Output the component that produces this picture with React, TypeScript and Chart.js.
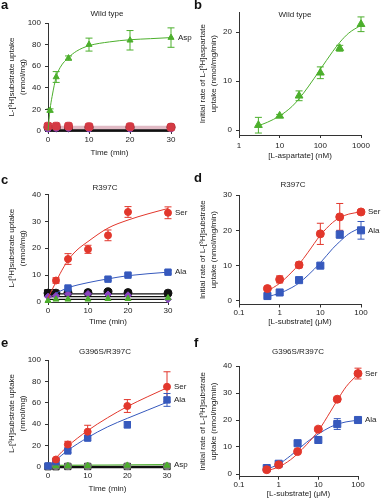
import React, { useEffect, useRef } from "react";
import { Chart, registerables } from "chart.js";
Chart.register(...registerables);

const FONT = "'Liberation Sans', Arial, sans-serif";
const GREEN = "#4caf2c";
const RED = "#e2372c";
const BLUE = "#3659bd";
const PURPLE = "#8a46c2";
const BLACK = "#111111";
const GRAY = "#7a7a7a";
const TEXT = "#222222";

// ---------- shared ticks ----------
const timeTicks = [0, 10, 20, 30];
const timeTickLabels = ["0", "10", "20", "30"];
const lineEnds = [0, 30];

// ---------- panel a (Wild type, time course) ----------
const aTime = [0.5, 2, 5, 10, 20, 30];
const aAsp = [19, 50, 67.5, 80, 84, 86.5];
const aAspErr = [1.5, 5, 2, 6, 9, 9];
const aFitTime = [0, 0.5, 1, 2, 3, 5, 7, 10, 15, 20, 25, 30];
const aAspFit = [0, 20, 32, 50, 59, 68, 74, 79, 82.5, 84.5, 85.5, 86.5];
const aCtrlTime = [0, 2, 5, 10, 20, 30];
const aCtrlRed = [4.5, 4.5, 4.5, 4, 4, 3.5];
const aCtrlBlack = [3, 3, 3, 3, 3, 3.5];
const aCtrlPurple = [2, 2.5, 2.5, 2, 2, 2];
const aFlatPink = [3, 3];
const aFlatBlack = [0.7, 0.7];
const aYTicks = [0, 20, 40, 60, 80, 100];

// ---------- panel b (Wild type, aspartate) ----------
const bConc = [3, 10, 30, 100, 300, 1000];
const bAsp = [1.0, 2.9, 7.0, 11.7, 16.7, 21.6];
const bAspErr = [1.6, 0.3, 1.0, 1.2, 0.6, 1.5];
const bFitConc = [3, 5, 10, 20, 30, 50, 100, 200, 300, 500, 1000];
const bAspFit = [0.9, 1.6, 2.9, 4.8, 6.4, 8.8, 12.4, 16.0, 17.9, 19.8, 21.4];
const bXTicks = [1, 10, 100, 1000];
const bXTickLabels = ["1", "10", "100", "1000"];
const bYTicks = [0, 10, 20];

// ---------- panel c (R397C, time course) ----------
const cSerTime = [2, 5, 10, 15, 20, 30];
const cSer = [8, 16, 19.6, 24.8, 33.5, 33.2];
const cSerErr = [1, 2, 1.5, 2, 2, 2.2];
const cSerFitTime = [0, 1, 2, 3, 5, 7, 10, 15, 20, 25, 30];
const cSerFit = [1.5, 4.5, 7.5, 10.5, 15.5, 19, 22.5, 27.5, 30.5, 32.8, 34.8];
const cAlaTime = [5, 15, 20, 30];
const cAla = [5.2, 8.5, 10, 11.1];
const cAlaErr = [0.4, 0.5, 0.5, 0.6];
const cAlaFitTime = [2, 5, 10, 15, 20, 30];
const cAlaFit = [3.3, 5.3, 7.2, 8.6, 9.8, 11.1];
const cCtrlTime = [0, 2, 5, 10, 15, 20, 30];
const cCtrlBlack = [3.3, 3.3, 3.5, 3.5, 3.8, 3.5, 3.3];
const cCtrlPurple = [2, 2.3, 3, 3, 2.8, 2.5, 1];
const cCtrlGreen = [0.5, 1, 1, 1, 1.2, 1.2, 1.5];
const cOpenTime = [0, 1];
const cOpen = [3.3, 3.3];
const cFlat1 = [1, 1];
const cFlat2 = [2, 2];
const cFlat3 = [3, 3];
const cYTicks = [0, 10, 20, 30, 40];

// ---------- panel d (R397C, substrates) ----------
const dConc = [0.5, 1, 3, 10, 30, 100];
const dSer = [3.5, 6.1, 10.2, 19.0, 23.8, 25.2];
const dSerErr = [0.5, 1.0, 0.8, 3.0, 3.8, 0.5];
const dAla = [1.4, 2.4, 5.9, 10.0, 18.8, 20.0];
const dAlaErr = [0.3, 0.4, 0.5, 0.5, 1.0, 2.5];
const dFitConc = [0.5, 1, 2, 3, 5, 10, 20, 30, 50, 100];
const dSerFit = [2.8, 5.0, 8.2, 10.4, 13.8, 18.6, 22.2, 23.6, 24.6, 25.2];
const dAlaFit = [1.2, 2.2, 3.8, 5.1, 7.3, 10.8, 14.8, 16.8, 19.0, 20.8];
const subXTicks = [0.1, 1, 10, 100];
const subXTickLabels = ["0.1", "1", "10", "100"];
const dYTicks = [0, 10, 20, 30];

// ---------- panel e (G396S/R397C, time course) ----------
const eSerTime = [2, 5, 10, 20, 30];
const eSer = [7, 21, 33, 57, 75];
const eSerErr = [1, 3, 6, 6, 14];
const eAlaTime = [0, 2, 5, 10, 20, 30];
const eAla = [1, 5, 15, 27, 39.5, 62.7];
const eAlaErr = [0.5, 1, 1.5, 2, 3, 6];
const eFitTime = [0, 2, 5, 10, 15, 20, 25, 30];
const eSerFit = [0, 8.5, 19.5, 34, 46, 56.5, 65.5, 74];
const eAlaFit = [0, 6.5, 15.5, 27.5, 37.5, 45.5, 53, 60.5];
const eCtrlTime = [0, 2, 5, 10, 20, 30];
const eAsp = [0.5, 1, 1, 1.2, 1.5, 1.5];
const eAspFit = [1.5, 2.2];
const eCtrlBlack = [0.3, 0.3, 0.5, 0.5, 0.5, 0.5];
const eCtrlGray = [0.8, 0.8, 0.8, 0.8, 0.8, 0.8];
const eFlatBlack = [0, 0];
const eYTicks = [0, 20, 40, 60, 80, 100];

// ---------- panel f (G396S/R397C, substrates) ----------
const fConc = [0.5, 1, 3, 10, 30, 100];
const fSer = [1.6, 3.4, 8.3, 16.6, 27.7, 37.2];
const fSerErr = [0.3, 0.4, 0.6, 0.8, 0.8, 2];
const fAla = [2.2, 3.8, 11.4, 12.6, 18.5, 20];
const fAlaErr = [0.5, 0.5, 0.8, 1.2, 2, 1];
const fFitConc = [0.5, 1, 2, 3, 5, 10, 20, 30, 50, 100];
const fSerFit = [1.2, 2.6, 5.3, 7.5, 10.8, 16.0, 23.0, 27.3, 32.3, 37.0];
const fAlaFit = [1.8, 3.6, 6.8, 8.9, 11.7, 14.8, 17.4, 18.4, 19.3, 19.9];
const fYTicks = [0, 10, 20, 30, 40];

const uptakeTitle = ["L-[³H]substrate uptake", "(nmol/mg)"];
const rateAspTitle = ["Initial rate of L-[³H]aspartate", "uptake (nmol/mg/min)"];
const rateSubTitle = ["Initial rate of L-[³H]substrate", "uptake (nmol/mg/min)"];

interface Series {
  key?: string;
  xs: number[];
  ys: number[];
  err?: number[];
  line?: boolean;
  color: string;
  fill?: string;
  style?: string;
  r?: number;
  w?: number;
}

interface PanelCfg {
  letter: string;
  left: number;
  top: number;
  w: number;
  h: number;
  xType: "linear" | "logarithmic";
  xMin: number;
  xMax: number;
  xTicks: number[];
  xLabels: string[];
  yMin: number;
  yMax: number;
  yTicks: number[];
  xTitle: string;
  yTitle: string[];
  title: string;
  titleX: number;
  titleY: number;
  pad: { left: number; right: number; top: number; bottom: number };
  xH: number;
  xTickPad: number;
  series: Series[];
  labels: { text: string; key: string }[];
  letterPos: [number, number];
}

const pts = (xs: number[], ys: number[]) => xs.map((x, i) => ({ x, y: ys[i] }));

const mark = (key: string, xs: number[], ys: number[], color: string, style: string, r: number, err?: number[], fill?: string): Series => ({ key, xs, ys, color, style, r, err, fill });
const curve = (key: string, xs: number[], ys: number[], color: string, w = 1): Series => ({ key, xs, ys, color, line: true, w });

const panels: PanelCfg[] = [
  {
    letter: "a", left: 0, top: 0, w: 205, h: 165, xType: "linear", xMin: 0, xMax: 30,
    xTicks: timeTicks, xLabels: timeTickLabels, yMin: 0, yMax: 100, yTicks: aYTicks,
    xTitle: "Time (min)", yTitle: uptakeTitle, title: "Wild type", titleX: 107, titleY: 14,
    pad: { left: 4, right: 34, top: 23, bottom: 7 }, xH: 27, xTickPad: 1.2,
    series: [
      mark("asp", aTime, aAsp, GREEN, "triangle", 3.5, aAspErr),
      curve("aspFit", aFitTime, aAspFit, GREEN),
      mark("red", aCtrlTime, aCtrlRed, "#d43a44", "rectRounded", 4.5),
      mark("purple", aCtrlTime, aCtrlPurple, PURPLE, "circle", 3),
      mark("black", aCtrlTime, aCtrlBlack, BLACK, "circle", 4),
      curve("blackLine", lineEnds, aFlatBlack, BLACK, 2),
      curve("pinkLine", lineEnds, aFlatPink, "rgba(200,130,150,0.55)", 4),
    ],
    labels: [{ text: "Asp", key: "asp" }],
    letterPos: [1, -2],
  },
  {
    letter: "b", left: 191, top: 0, w: 191, h: 165, xType: "logarithmic", xMin: 1, xMax: 1000,
    xTicks: bXTicks, xLabels: bXTickLabels, yMin: -1, yMax: 24, yTicks: bYTicks,
    xTitle: "[L-aspartate] (nM)", yTitle: rateAspTitle, title: "Wild type", titleX: 104, titleY: 15,
    pad: { left: 4, right: 21, top: 12.5, bottom: 4 }, xH: 26, xTickPad: 3.2,
    series: [
      mark("asp", bConc, bAsp, GREEN, "triangle", 4.5, bAspErr),
      curve("aspFit", bFitConc, bAspFit, GREEN),
    ],
    labels: [],
    letterPos: [3, -2],
  },
  {
    letter: "c", left: 0, top: 165, w: 205, h: 165, xType: "linear", xMin: 0, xMax: 30,
    xTicks: timeTicks, xLabels: timeTickLabels, yMin: 0, yMax: 40, yTicks: cYTicks,
    xTitle: "Time (min)", yTitle: uptakeTitle, title: "R397C", titleX: 105, titleY: 23,
    pad: { left: 4, right: 37, top: 29.5, bottom: 3 }, xH: 25, xTickPad: 1.2,
    series: [
      mark("ser", cSerTime, cSer, RED, "circle", 3.5, cSerErr),
      mark("ala", cAlaTime, cAla, BLUE, "rect", 4.5, cAlaErr),
      curve("serFit", cSerFitTime, cSerFit, RED),
      curve("alaFit", cAlaFitTime, cAlaFit, BLUE),
      mark("green", cCtrlTime, cCtrlGreen, GREEN, "triangle", 3.5),
      mark("purple", cCtrlTime, cCtrlPurple, PURPLE, "rectRot", 3.5),
      mark("black", cCtrlTime, cCtrlBlack, BLACK, "circle", 4),
      mark("open", cOpenTime, cOpen, BLACK, "rect", 5, undefined, "#ffffff"),
      curve("f1", lineEnds, cFlat1, BLACK, 1.2),
      curve("f2", lineEnds, cFlat2, BLACK, 1.2),
      curve("f3", lineEnds, cFlat3, BLACK, 1.2),
    ],
    labels: [{ text: "Ser", key: "ser" }, { text: "Ala", key: "ala" }],
    letterPos: [1, 173 - 165],
  },
  {
    letter: "d", left: 191, top: 165, w: 191, h: 165, xType: "logarithmic", xMin: 0.1, xMax: 100,
    xTicks: subXTicks, xLabels: subXTickLabels, yMin: -1, yMax: 30, yTicks: dYTicks,
    xTitle: "[L-substrate] (μM)", yTitle: rateSubTitle, title: "R397C", titleX: 102, titleY: 20,
    pad: { left: 4, right: 21, top: 30, bottom: 3 }, xH: 22.5, xTickPad: 0,
    series: [
      mark("ser", dConc, dSer, RED, "circle", 4, dSerErr),
      mark("ala", dConc, dAla, BLUE, "rect", 5, dAlaErr),
      curve("serFit", dFitConc, dSerFit, RED),
      curve("alaFit", dFitConc, dAlaFit, BLUE),
    ],
    labels: [{ text: "Ser", key: "ser" }, { text: "Ala", key: "ala" }],
    letterPos: [3, 171 - 165],
  },
  {
    letter: "e", left: 0, top: 330, w: 205, h: 170, xType: "linear", xMin: 0, xMax: 30,
    xTicks: timeTicks, xLabels: timeTickLabels, yMin: 0, yMax: 100, yTicks: eYTicks,
    xTitle: "Time (min)", yTitle: uptakeTitle, title: "G396S/R397C", titleX: 105, titleY: 22,
    pad: { left: 4, right: 38, top: 30, bottom: 6 }, xH: 27, xTickPad: 1.2,
    series: [
      mark("ser", eSerTime, eSer, RED, "circle", 3.5, eSerErr),
      mark("ala", eAlaTime, eAla, BLUE, "rect", 4.5, eAlaErr),
      curve("serFit", eFitTime, eSerFit, RED),
      curve("alaFit", eFitTime, eAlaFit, BLUE),
      mark("aspPts", eCtrlTime, eAsp, GREEN, "triangle", 3.5),
      mark("gray", eCtrlTime, eCtrlGray, GRAY, "circle", 3.5),
      mark("black", eCtrlTime, eCtrlBlack, "#222", "rect", 4.5),
      curve("asp", lineEnds, eAspFit, GREEN, 1.2),
      curve("blackLine", lineEnds, eFlatBlack, BLACK, 2.5),
    ],
    labels: [{ text: "Ser", key: "ser" }, { text: "Ala", key: "ala" }, { text: "Asp", key: "asp" }],
    letterPos: [1, 336 - 330],
  },
  {
    letter: "f", left: 191, top: 330, w: 191, h: 170, xType: "logarithmic", xMin: 0.1, xMax: 100,
    xTicks: subXTicks, xLabels: subXTickLabels, yMin: -1, yMax: 40, yTicks: fYTicks,
    xTitle: "[L-substrate] (μM)", yTitle: rateSubTitle, title: "G396S/R397C", titleX: 107, titleY: 22,
    pad: { left: 4, right: 24, top: 36, bottom: 1 }, xH: 22.3, xTickPad: 0,
    series: [
      mark("ser", fConc, fSer, RED, "circle", 4, fSerErr),
      mark("ala", fConc, fAla, BLUE, "rect", 5, fAlaErr),
      curve("serFit", fFitConc, fSerFit, RED),
      curve("alaFit", fFitConc, fAlaFit, BLUE),
    ],
    labels: [{ text: "Ser", key: "ser" }, { text: "Ala", key: "ala" }],
    letterPos: [3, 336 - 330],
  },
];

const errorBarPlugin = {
  id: "errorBars",
  beforeDatasetsDraw(chart: any) {
    const ctx = chart.ctx;
    const xs = chart.scales.x;
    const ys = chart.scales.y;
    chart.data.datasets.forEach((ds: any) => {
      if (!ds.errorBars) return;
      ctx.save();
      ctx.strokeStyle = ds.borderColor;
      ctx.lineWidth = 1;
      ds.data.forEach((p: any, j: number) => {
        const e = ds.errorBars[j];
        if (!e) return;
        const px = xs.getPixelForValue(p.x);
        const y1 = ys.getPixelForValue(p.y + e);
        const y2 = ys.getPixelForValue(p.y - e);
        ctx.beginPath();
        ctx.moveTo(px, y1);
        ctx.lineTo(px, y2);
        ctx.moveTo(px - 3.5, y1);
        ctx.lineTo(px + 3.5, y1);
        ctx.moveTo(px - 3.5, y2);
        ctx.lineTo(px + 3.5, y2);
        ctx.stroke();
      });
      ctx.restore();
    });
  },
};

function textPlugin(cfg: PanelCfg) {
  return {
    id: "panelText",
    afterDraw(chart: any) {
      const ctx = chart.ctx;
      ctx.save();
      ctx.font = `8px ${FONT}`;
      ctx.fillStyle = TEXT;
      ctx.textBaseline = "middle";
      ctx.textAlign = "center";
      ctx.fillText(cfg.title, cfg.titleX, cfg.titleY);
      ctx.textAlign = "left";
      for (const lab of cfg.labels) {
        const ds = chart.data.datasets.find((d: any) => d.key === lab.key);
        if (!ds) continue;
        const last = ds.data[ds.data.length - 1];
        const px = chart.scales.x.getPixelForValue(last.x) + 7;
        const py = chart.scales.y.getPixelForValue(last.y);
        ctx.fillText(lab.text, px, py);
      }
      ctx.restore();
    },
  };
}

function PanelChart({ cfg }: { cfg: PanelCfg }) {
  const ref = useRef<HTMLCanvasElement | null>(null);
  useEffect(() => {
    if (!ref.current) return;
    const font = { family: FONT, size: 8 };
    const datasets = cfg.series.map((s) => {
      if (s.line) {
        return {
          key: s.key,
          data: pts(s.xs, s.ys),
          showLine: true,
          borderColor: s.color,
          backgroundColor: s.color,
          borderWidth: s.w || 1,
          pointRadius: 0,
          cubicInterpolationMode: "monotone",
          clip: false,
        } as any;
      }
      return {
        key: s.key,
        data: pts(s.xs, s.ys),
        showLine: false,
        borderColor: s.color,
        backgroundColor: s.fill || s.color,
        borderWidth: 1,
        pointStyle: s.style,
        pointRadius: s.r,
        errorBars: s.err,
        clip: false,
      } as any;
    });
    const axisCommon = {
      grid: { display: true, drawOnChartArea: false, drawTicks: true, tickLength: 3, color: "#333" },
      border: { display: true, color: "#333", width: 1 },
    };
    const chart = new Chart(ref.current, {
      type: "scatter",
      data: { datasets },
      options: {
        animation: false,
        responsive: false,
        devicePixelRatio: 1,
        events: [],
        layout: { padding: cfg.pad },
        plugins: { legend: { display: false }, tooltip: { enabled: false }, title: { display: false } },
        scales: {
          x: {
            type: cfg.xType,
            min: cfg.xMin,
            max: cfg.xMax,
            ...axisCommon,
            afterBuildTicks: (s: any) => {
              s.ticks = cfg.xTicks.map((v) => ({ value: v }));
            },
            afterFit: (s: any) => {
              s.height = cfg.xH;
            },
            ticks: {
              font,
              color: TEXT,
              padding: cfg.xTickPad,
              maxRotation: 0,
              autoSkip: false,
              callback: (_v: any, i: number) => cfg.xLabels[i],
            },
            title: { display: true, text: cfg.xTitle, font: { ...font, lineHeight: 1.25 }, color: TEXT, padding: { top: 0, bottom: 0 } },
          },
          y: {
            type: "linear",
            min: cfg.yMin,
            max: cfg.yMax,
            ...axisCommon,
            afterBuildTicks: (s: any) => {
              s.ticks = cfg.yTicks.map((v) => ({ value: v }));
            },
            afterFit: (s: any) => {
              s.width = 44;
            },
            ticks: { font, color: TEXT, padding: 4, autoSkip: false, callback: (v: any) => String(v) },
            title: { display: true, text: cfg.yTitle, font: { ...font, lineHeight: 1.4 }, color: TEXT, padding: { top: 2, bottom: 0 } },
          },
        } as any,
      },
      plugins: [errorBarPlugin, textPlugin(cfg)],
    } as any);
    return () => chart.destroy();
  }, [cfg]);
  return (
    <canvas
      ref={ref}
      width={cfg.w}
      height={cfg.h}
      style={{ position: "absolute", left: cfg.left, top: cfg.top, width: cfg.w, height: cfg.h, display: "block" }}
    />
  );
}

export default function App() {
  return (
    <div style={{ position: "fixed", left: 0, top: 0, width: 382, height: 500, background: "#ffffff", overflow: "hidden" }}>
      {panels.map((p) => (
        <PanelChart key={p.letter} cfg={p} />
      ))}
      {panels.map((p) => (
        <div
          key={"l" + p.letter}
          style={{
            position: "absolute",
            left: p.left + p.letterPos[0],
            top: p.top + p.letterPos[1],
            font: `bold 13px ${FONT}`,
            lineHeight: "13px",
            color: "#111",
          }}
        >
          {p.letter}
        </div>
      ))}
    </div>
  );
}
